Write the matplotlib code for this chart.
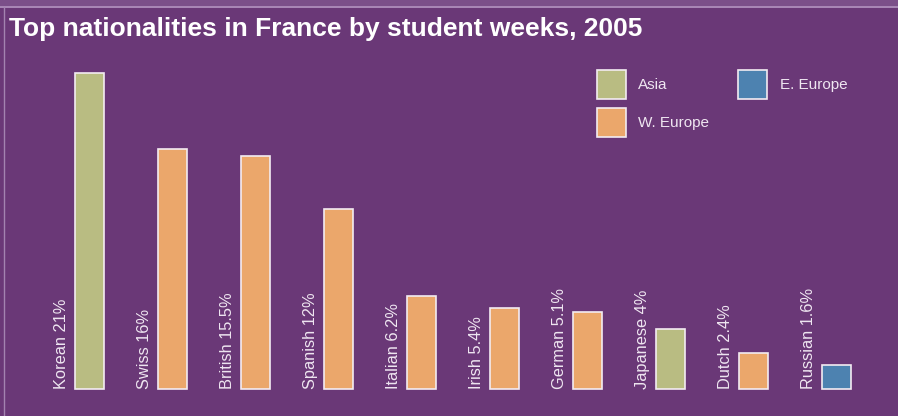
import matplotlib.pyplot as plt
from matplotlib.patches import Patch, Rectangle

nationalities = ["Korean", "Swiss", "British", "Spanish", "Italian",
                 "Irish", "German", "Japanese", "Dutch", "Russian"]
shares = [21, 16, 15.5, 12, 6.2, 5.4, 5.1, 4, 2.4, 1.6]
share_labels = ["21%", "16%", "15.5%", "12%", "6.2%", "5.4%", "5.1%", "4%", "2.4%", "1.6%"]
regions = ["Asia", "W. Europe", "W. Europe", "W. Europe", "W. Europe",
           "W. Europe", "W. Europe", "Asia", "W. Europe", "E. Europe"]

region_colors = {"Asia": "#b9bc82", "W. Europe": "#eba76b", "E. Europe": "#4d82b0"}
bg = "#6a3877"
txt = "#efe6f1"

fig = plt.figure(figsize=(8.98, 4.16), dpi=100, facecolor=bg)
ax = fig.add_axes([0, 0, 1, 1])
ax.set_facecolor("none")

x = list(range(len(nationalities)))
ax.bar(x, shares, width=0.35, color=[region_colors[r] for r in regions],
       edgecolor="#f3ecf2", linewidth=1.2)

for i, (name, lab) in enumerate(zip(nationalities, share_labels)):
    ax.text(i - 0.25, 0, f"{name} {lab}", rotation=90, ha="right", va="bottom",
            color=txt, fontsize=11.8, family=["Liberation Sans", "DejaVu Sans"])

ax.set_xlim(-1.078, 9.741)
ax.set_ylim(-1.796, 25.88)
ax.axis("off")

# header strip and frame lines
fig.patches.append(Rectangle((0, 1 - 6 / 416), 1, 6 / 416, transform=fig.transFigure,
                             facecolor="#7b4f89", edgecolor="none"))
fig.add_artist(plt.Line2D([0, 1], [1 - 7 / 416] * 2, transform=fig.transFigure,
                          color="#b596c2", lw=1.2))
fig.add_artist(plt.Line2D([3.5 / 898] * 2, [0, 1 - 7 / 416], transform=fig.transFigure,
                          color="#a383b0", lw=1.0))

fig.text(9 / 898, 1 - 36 / 416, "Top nationalities in France by student weeks, 2005",
         color="white", fontsize=19.0, fontweight="bold", va="baseline",
         family=["Liberation Sans", "DejaVu Sans"])

handles = [Patch(facecolor=region_colors[r], edgecolor="#f3ecf2", linewidth=1.2, label=r)
           for r in ["Asia", "W. Europe", "E. Europe"]]
leg = ax.legend(handles=handles, ncol=2, loc="upper left",
                bbox_to_anchor=(597 / 898, 1 - 70 / 416), bbox_transform=fig.transFigure,
                frameon=False, borderpad=0, borderaxespad=0,
                handlelength=1.9, handleheight=2.54, handletextpad=0.8,
                labelspacing=0.6, columnspacing=1.9,
                prop={"family": ["Liberation Sans", "DejaVu Sans"], "size": 11})
for t in leg.get_texts():
    t.set_color(txt)

fig.savefig("out.png", dpi=100, facecolor=bg)
